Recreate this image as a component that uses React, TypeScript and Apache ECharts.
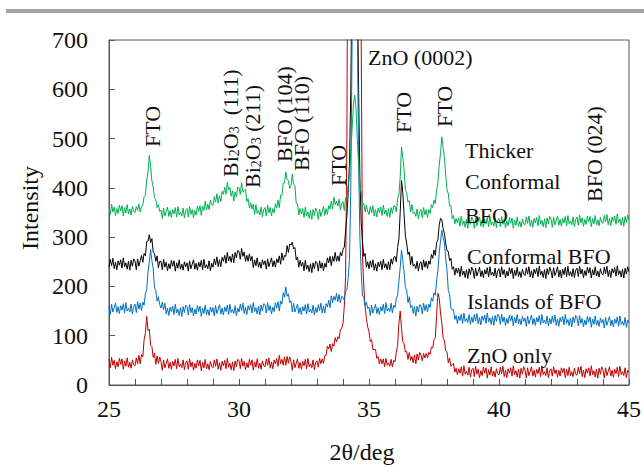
import React, { useEffect, useRef } from "react";
import * as echarts from "echarts";

// 2θ grid: 25.00 .. 45.00 in steps of 0.05 deg (401 points)
const twoTheta: number[] = Array.from({ length: 401 }, (_, i) => Math.round((25 + i * 0.05) * 100) / 100);

const seriesNames = ["ZnO only", "Islands of BFO", "Conformal BFO", "Thicker Conformal BFO"];

// Intensity, one row per degree (x.00 .. x.95)
const zno: number[] = [
  52, 35, 56, 40, 50, 33, 47, 37, 54, 42, 53, 32, 49, 38, 55, 36, 46, 34, 51, 41,
  39, 55, 43, 60, 43, 62, 57, 92, 106, 139, 110, 113, 81, 78, 56, 65, 42, 59, 44, 57,
  47, 30, 51, 35, 44, 53, 34, 46, 32, 48, 39, 52, 33, 54, 37, 43, 35, 51, 31, 46,
  49, 32, 53, 37, 47, 30, 44, 34, 51, 39, 50, 29, 46, 35, 52, 33, 43, 31, 48, 38,
  35, 51, 38, 53, 32, 45, 30, 48, 39, 50, 33, 54, 36, 44, 31, 47, 29, 49, 37, 52,
  50, 33, 54, 38, 48, 31, 45, 35, 52, 40, 51, 30, 47, 36, 53, 34, 44, 32, 49, 39,
  37, 53, 40, 55, 34, 47, 33, 51, 43, 54, 38, 60, 43, 52, 40, 57, 40, 58, 44, 57,
  47, 30, 51, 35, 44, 53, 34, 46, 32, 48, 39, 52, 33, 54, 37, 43, 35, 51, 31, 46,
  49, 36, 54, 43, 53, 44, 60, 60, 79, 73, 83, 68, 84, 79, 96, 87, 98, 94, 113, 114,
  125, 160, 220, 500, 1200, 2000, 2600, 3000, 3300, 3400, 3300, 3000, 2500, 1600, 700, 260, 200, 160, 135, 118,
  108, 88, 92, 72, 72, 72, 54, 58, 43, 53, 43, 53, 37, 54, 40, 45, 38, 52, 37, 50,
  47, 66, 80, 125, 150, 115, 88, 84, 67, 68, 52, 66, 50, 58, 45, 61, 43, 63, 51, 66,
  61, 49, 64, 55, 64, 55, 66, 62, 77, 75, 92, 96, 141, 186, 177, 146, 126, 96, 90, 70,
  67, 45, 55, 38, 40, 44, 26, 34, 21, 33, 24, 37, 18, 39, 22, 28, 20, 36, 16, 31,
  34, 17, 38, 22, 32, 15, 29, 19, 36, 24, 35, 14, 31, 20, 37, 18, 28, 16, 33, 23,
  20, 36, 23, 38, 17, 30, 15, 33, 24, 35, 18, 39, 21, 29, 16, 32, 14, 34, 22, 37,
  31, 14, 35, 19, 28, 37, 18, 30, 16, 32, 23, 36, 17, 38, 21, 27, 19, 35, 15, 30,
  33, 18, 37, 23, 31, 16, 30, 18, 35, 25, 34, 15, 32, 19, 36, 19, 27, 17, 34, 22,
  20, 36, 23, 38, 17, 30, 15, 33, 24, 35, 18, 39, 21, 29, 16, 32, 14, 34, 22, 37,
  31, 14, 35, 19, 28, 37, 18, 30, 16, 32, 23, 36, 17, 38, 21, 27, 19, 35, 15, 30,
  26,
];

const islands: number[] = [
  160, 143, 164, 148, 157, 166, 147, 159, 145, 161, 152, 165, 146, 167, 150, 156, 148, 164, 144, 159,
  164, 147, 169, 154, 166, 151, 168, 162, 186, 193, 229, 250, 275, 252, 236, 197, 192, 170, 179, 163,
  156, 168, 153, 166, 144, 156, 141, 158, 149, 160, 143, 164, 146, 154, 141, 157, 139, 159, 147, 162,
  159, 142, 163, 147, 157, 140, 154, 144, 161, 149, 160, 139, 156, 145, 162, 143, 153, 141, 158, 148,
  157, 140, 161, 145, 154, 163, 144, 156, 142, 158, 149, 162, 143, 164, 147, 153, 145, 161, 141, 156,
  148, 164, 151, 166, 145, 158, 143, 161, 152, 163, 146, 167, 149, 157, 144, 160, 142, 162, 150, 165,
  163, 146, 167, 151, 161, 144, 158, 149, 167, 156, 169, 150, 170, 164, 187, 178, 199, 180, 185, 167,
  171, 148, 166, 148, 156, 164, 145, 157, 143, 159, 150, 163, 144, 165, 148, 154, 146, 162, 142, 157,
  147, 163, 151, 166, 146, 160, 146, 165, 158, 172, 157, 181, 167, 180, 172, 186, 169, 184, 167, 180,
  178, 172, 190, 193, 218, 255, 400, 700, 1100, 1400, 1100, 750, 450, 300, 230, 181, 178, 160, 168, 155,
  158, 141, 162, 146, 155, 164, 145, 157, 143, 159, 150, 164, 145, 167, 150, 156, 149, 166, 146, 162,
  157, 176, 182, 210, 238, 274, 252, 229, 198, 192, 167, 179, 157, 161, 145, 159, 140, 160, 148, 163,
  161, 144, 166, 151, 163, 148, 164, 157, 177, 170, 187, 182, 211, 233, 268, 292, 314, 299, 288, 256,
  233, 192, 183, 156, 152, 153, 133, 141, 125, 140, 131, 144, 125, 146, 129, 135, 127, 143, 123, 138,
  127, 143, 130, 145, 124, 137, 122, 140, 131, 142, 125, 146, 128, 136, 123, 139, 121, 141, 129, 144,
  140, 123, 144, 128, 138, 121, 135, 125, 142, 130, 141, 120, 137, 126, 143, 124, 134, 122, 139, 129,
  136, 119, 140, 124, 133, 142, 123, 135, 121, 137, 128, 141, 122, 143, 126, 132, 124, 140, 120, 135,
  124, 140, 127, 142, 121, 134, 119, 137, 128, 139, 122, 143, 125, 133, 120, 136, 118, 138, 126, 141,
  137, 120, 141, 125, 135, 118, 132, 122, 139, 127, 138, 117, 134, 123, 140, 121, 131, 119, 136, 126,
  133, 116, 137, 121, 130, 139, 120, 132, 118, 134, 125, 138, 119, 140, 123, 129, 121, 137, 117, 132,
  127,
];

const conformal: number[] = [
  239, 255, 242, 257, 236, 249, 234, 252, 243, 254, 237, 258, 240, 248, 235, 251, 233, 253, 241, 256,
  251, 234, 256, 241, 252, 263, 249, 267, 262, 291, 292, 305, 289, 297, 269, 267, 251, 262, 238, 251,
  251, 234, 255, 239, 249, 232, 246, 236, 253, 241, 252, 231, 248, 237, 254, 235, 245, 233, 250, 240,
  248, 231, 252, 236, 245, 254, 235, 247, 233, 249, 240, 253, 234, 255, 238, 244, 236, 252, 232, 247,
  239, 256, 244, 260, 240, 254, 240, 259, 251, 263, 247, 269, 252, 261, 249, 266, 248, 269, 258, 273,
  271, 255, 277, 261, 270, 251, 263, 251, 266, 252, 261, 238, 254, 242, 258, 239, 249, 237, 254, 244,
  252, 235, 256, 240, 249, 258, 240, 252, 239, 256, 248, 262, 245, 268, 253, 263, 261, 283, 269, 286,
  284, 290, 276, 279, 254, 260, 239, 253, 241, 249, 232, 253, 235, 243, 230, 246, 228, 248, 236, 251,
  248, 231, 252, 237, 248, 232, 247, 239, 258, 248, 261, 242, 261, 251, 269, 251, 262, 251, 269, 262,
  275, 280, 313, 343, 390, 450, 600, 850, 1200, 1500, 1200, 850, 600, 420, 330, 291, 261, 267, 239, 250,
  236, 252, 239, 254, 233, 246, 231, 249, 240, 251, 234, 255, 238, 246, 234, 250, 234, 256, 245, 259,
  261, 250, 279, 296, 350, 415, 390, 345, 302, 288, 265, 270, 244, 261, 241, 245, 236, 251, 231, 246,
  250, 233, 254, 239, 251, 236, 252, 245, 265, 257, 274, 263, 289, 294, 324, 338, 336, 317, 308, 288,
  272, 271, 252, 257, 235, 240, 223, 237, 227, 237, 220, 241, 223, 231, 218, 234, 216, 236, 224, 239,
  233, 216, 237, 221, 230, 239, 220, 232, 218, 234, 225, 238, 219, 240, 223, 229, 221, 237, 217, 232,
  236, 219, 240, 224, 234, 217, 231, 221, 238, 226, 237, 216, 233, 222, 239, 220, 230, 218, 235, 225,
  222, 238, 225, 240, 219, 232, 217, 235, 226, 237, 220, 241, 223, 231, 218, 234, 216, 236, 224, 239,
  231, 217, 238, 222, 229, 240, 219, 233, 217, 235, 224, 239, 220, 241, 222, 230, 220, 236, 218, 233,
  237, 220, 241, 225, 235, 218, 232, 222, 239, 227, 238, 217, 234, 223, 240, 221, 231, 219, 236, 226,
  223, 239, 226, 241, 220, 233, 218, 236, 227, 238, 221, 242, 224, 232, 219, 235, 217, 237, 225, 240,
  230,
];

const thicker: number[] = [
  363, 346, 367, 351, 361, 344, 358, 348, 365, 353, 364, 343, 360, 349, 366, 347, 357, 345, 362, 352,
  350, 362, 354, 367, 351, 362, 364, 382, 385, 416, 432, 466, 444, 414, 402, 380, 376, 360, 366, 352,
  355, 338, 359, 343, 352, 361, 342, 354, 340, 356, 347, 360, 341, 362, 345, 351, 343, 359, 339, 354,
  358, 341, 362, 346, 356, 339, 354, 345, 363, 352, 364, 344, 363, 354, 373, 355, 367, 356, 375, 366,
  364, 382, 371, 388, 369, 384, 372, 393, 387, 401, 387, 411, 396, 401, 383, 394, 373, 392, 382, 401,
  400, 387, 411, 391, 395, 397, 372, 378, 359, 370, 357, 367, 346, 366, 348, 354, 345, 361, 341, 356,
  360, 343, 365, 349, 360, 343, 358, 349, 368, 359, 375, 360, 385, 384, 410, 410, 432, 417, 415, 399,
  404, 428, 407, 405, 369, 368, 345, 358, 347, 358, 340, 361, 343, 351, 338, 354, 336, 356, 344, 359,
  353, 336, 357, 342, 352, 362, 344, 358, 346, 364, 357, 373, 357, 381, 366, 373, 363, 377, 355, 368,
  372, 354, 380, 376, 406, 426, 473, 518, 568, 588, 562, 500, 448, 401, 392, 364, 368, 351, 365, 353,
  346, 362, 349, 364, 343, 356, 341, 359, 350, 361, 344, 365, 347, 355, 342, 358, 340, 360, 348, 363,
  363, 351, 378, 386, 422, 483, 462, 437, 396, 389, 371, 374, 351, 366, 348, 351, 342, 357, 337, 352,
  356, 339, 360, 345, 356, 340, 356, 348, 366, 360, 375, 368, 395, 411, 446, 470, 503, 482, 462, 426,
  396, 388, 363, 364, 338, 344, 327, 338, 329, 339, 322, 343, 325, 333, 320, 336, 318, 338, 326, 341,
  335, 318, 339, 323, 332, 341, 322, 334, 320, 336, 327, 340, 321, 342, 325, 331, 323, 339, 319, 334,
  338, 321, 342, 326, 336, 319, 333, 323, 340, 328, 339, 318, 335, 324, 341, 322, 332, 320, 337, 327,
  325, 341, 328, 343, 322, 335, 320, 338, 329, 340, 323, 344, 326, 334, 321, 337, 319, 339, 327, 342,
  337, 320, 341, 325, 334, 343, 324, 336, 322, 338, 329, 342, 323, 344, 327, 333, 325, 341, 321, 336,
  341, 324, 345, 329, 339, 322, 336, 326, 343, 331, 342, 321, 338, 327, 344, 325, 335, 323, 340, 330,
  328, 344, 331, 346, 325, 338, 323, 341, 332, 343, 326, 347, 329, 337, 324, 340, 322, 342, 330, 345,
  335,
];

const xTicks = { min: 25, max: 45, interval: 5 };
const yTicks = { min: 0, max: 700, interval: 100 };

const FONT = "'Liberation Serif', 'Times New Roman', Times, serif";
const AX = "#555555";
const TXT = "#111111";

const vText = (text: string, x: number, y: number, extra: any = {}) => ({
  type: "text",
  x,
  y,
  rotation: Math.PI / 2,
  z: 100,
  style: {
    text,
    fontSize: 22,
    fontFamily: FONT,
    fill: TXT,
    align: "left",
    verticalAlign: "middle",
    lineHeight: 22,
    ...extra,
  },
});

const hText = (text: string, x: number, y: number) => ({
  type: "text",
  x,
  y,
  z: 100,
  style: { text, fontSize: 22, fontFamily: FONT, fill: TXT, align: "left", verticalAlign: "middle" },
});

const subRich = {
  s: { fontSize: 14, fontFamily: FONT, fill: TXT, verticalAlign: "bottom", lineHeight: 10 },
};

export default function App() {
  const ref = useRef<HTMLDivElement>(null);
  useEffect(() => {
    if (!ref.current) return;
    const chart = echarts.init(ref.current, undefined, { renderer: "svg" });
    const mk = (vals: number[]) => twoTheta.map((x, i) => [x, vals[i]]);
    const colors = ["#c00000", "#000000", "#0070c0", "#00b050"];
    const order = [
      { name: seriesNames[0], data: mk(zno), color: colors[0] },
      { name: seriesNames[2], data: mk(conformal), color: colors[1] },
      { name: seriesNames[1], data: mk(islands), color: colors[2] },
      { name: seriesNames[3], data: mk(thicker), color: colors[3] },
    ];
    chart.setOption({
      animation: false,
      backgroundColor: "#ffffff",
      grid: { left: 109, right: 14, top: 40, bottom: 81, show: true, borderColor: AX, borderWidth: 1 },
      xAxis: {
        type: "value",
        min: xTicks.min,
        max: xTicks.max,
        interval: xTicks.interval,
        axisLine: { show: true, onZero: false, lineStyle: { color: AX, width: 1 } },
        axisTick: { show: true, inside: true, length: 6, lineStyle: { color: AX } },
        minorTick: { show: true, splitNumber: 5, length: 6, lineStyle: { color: AX } },
        splitLine: { show: false },
        axisLabel: { fontSize: 24, fontFamily: FONT, color: TXT, margin: 12 },
      },
      yAxis: {
        type: "value",
        min: yTicks.min,
        max: yTicks.max,
        interval: yTicks.interval,
        axisLine: { show: true, lineStyle: { color: AX, width: 1 } },
        axisTick: { show: true, inside: true, length: 6, lineStyle: { color: AX } },
        splitLine: { show: false },
        axisLabel: { fontSize: 24, fontFamily: FONT, color: TXT, margin: 21 },
      },
      series: order.map((s) => ({
        type: "line",
        name: s.name,
        data: s.data,
        showSymbol: false,
        symbol: "none",
        clip: true,
        lineStyle: { color: s.color, width: 1 },
        itemStyle: { color: s.color },
      })),
      graphic: [
        { type: "rect", shape: { x: 6, y: 9, width: 638, height: 4 }, style: { fill: "#a3a3a3" } },
        {
          type: "text",
          x: 30,
          y: 208,
          rotation: Math.PI / 2,
          style: { text: "Intensity", fontSize: 24, fontFamily: FONT, fill: TXT, align: "center", verticalAlign: "middle" },
        },
        {
          type: "text",
          x: 362,
          y: 452,
          style: { text: "2θ/deg", fontSize: 24, fontFamily: FONT, fill: TXT, align: "center", verticalAlign: "middle" },
        },
        vText("FTO", 152, 147),
        vText("Bi{s|2}O{s|3}  (111)", 230, 177, { rich: subRich }),
        vText("Bi{s|2}O{s|3} (211)", 252, 188, { rich: subRich }),
        vText("BFO (104)", 284, 162),
        vText("BFO (110)", 301, 171),
        vText("FTO", 338, 186),
        hText("ZnO (0002)", 368, 57),
        vText("FTO", 403, 133),
        vText("FTO", 444, 127),
        hText("Thicker", 465, 150),
        hText("Conformal", 465, 181),
        hText("BFO", 465, 215),
        hText("Conformal BFO", 467, 256),
        hText("Islands of BFO", 467, 301),
        hText("ZnO only", 467, 355),
        vText("BFO (024)", 594, 202),
      ],
    });
    return () => chart.dispose();
  }, []);
  return (
    <div
      ref={ref}
      style={{ position: "fixed", left: 0, top: 0, width: 644, height: 466, background: "#fff" }}
    />
  );
}
